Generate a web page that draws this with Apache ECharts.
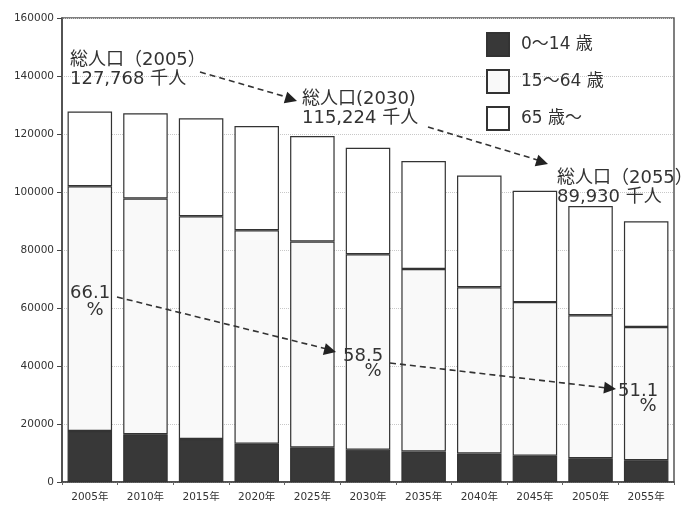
<!DOCTYPE html>
<html>
<head>
<meta charset="utf-8">
<script src="https://cdn.jsdelivr.net/npm/echarts@6/dist/echarts.min.js"></script>
<style>
  html, body { margin: 0; padding: 0; background: #fff; }
  #main { width: 689px; height: 511px; }
</style>
</head>
<body>
<div id="main"></div>
<script>
// 年次
let years = ['2005年','2010年','2015年','2020年','2025年','2030年','2035年','2040年','2045年','2050年','2055年'];
// 人口（千人）
let age0to14 = [17585, 16479, 14841, 13201, 11956, 11150, 10512, 9833, 9036, 8214, 7516];
let age15to64 = [84422, 81285, 76807, 73635, 70960, 67404, 62919, 57335, 53000, 49297, 45951];
let age65over = [25761, 29412, 33781, 35899, 36354, 36670, 37249, 38527, 38407, 37641, 36463];
let seriesNames = ['0〜14 歳', '15〜64 歳', '65 歳〜'];

let chartInstance = echarts.init(document.getElementById('main'));

let txtFont = '"DejaVu Sans", "Noto Sans CJK JP", sans-serif';
let edge = '#333333';

// 注記の矢印（破線）
function arrow(x1, y1, x2, y2) {
	return {
		type: 'line',
		shape: { x1: x1, y1: y1, x2: x2, y2: y2 },
		style: { stroke: '#333', lineWidth: 1.6, lineDash: [6, 4] },
		z: 100
	};
}
function head(x, y, ang) {
	return {
		type: 'polygon',
		x: x, y: y, rotation: -ang,
		shape: { points: [[0, 0], [-12, -6], [-12, 6]] },
		style: { fill: '#222' },
		z: 101
	};
}
function note(x, y, text, align) {
	return {
		type: 'text',
		x: x, y: y,
		style: {
			text: text, fill: '#333', font: '18px ' + txtFont,
			textAlign: align || 'left', lineHeight: 19
		},
		z: 102
	};
}

let option = {
	backgroundColor: '#fff',
	animation: false,
	grid: {
		left: 62, right: 15, top: 18, bottom: 29,
		show: true, borderColor: '#555', borderWidth: 1.5, backgroundColor: 'transparent'
	},
	legend: {
		orient: 'vertical',
		left: 481, top: 27,
		icon: 'rect',
		itemWidth: 22, itemHeight: 23,
		itemGap: 12,
		data: seriesNames,
		textStyle: { fontSize: 17, color: '#333', fontFamily: txtFont, padding: [0, 0, 0, 7] }
	},
	xAxis: [{
		type: 'category',
		data: years,
		axisLine: { lineStyle: { color: '#444', width: 1.5 } },
		axisTick: { show: true, length: 3, lineStyle: { color: '#666' } },
		axisLabel: {
			interval: 0, margin: 10, color: '#333',
			fontSize: 10.5, fontFamily: 'DejaVu Sans, "Noto Sans CJK JP"'
		}
	}],
	yAxis: [{
		type: 'value',
		min: 0, max: 160000, interval: 20000,
		axisLine: { show: true, lineStyle: { color: '#444', width: 1.5 } },
		axisTick: { show: true, length: 5, lineStyle: { color: '#444' } },
		axisLabel: {
			margin: 8, color: '#333', fontSize: 10.5, fontFamily: 'DejaVu Sans',
			formatter: function (v) { return String(v); }
		},
		splitLine: { show: true, lineStyle: { color: '#c8c8c8', type: 'dotted', width: 1 } }
	}],
	series: [
		{
			name: seriesNames[0], type: 'bar', stack: 'pop', barWidth: '80%',
			data: age0to14,
			itemStyle: { color: '#383838', borderColor: edge, borderWidth: 1.2 }
		},
		{
			name: seriesNames[1], type: 'bar', stack: 'pop',
			data: age15to64,
			itemStyle: { color: '#f9f9f9', borderColor: edge, borderWidth: 1.2 }
		},
		{
			name: seriesNames[2], type: 'bar', stack: 'pop',
			data: age65over,
			itemStyle: { color: '#ffffff', borderColor: edge, borderWidth: 1.2 }
		}
	],
	graphic: [
		note(70, 51, '総人口（2005）\n127,768 千人'),
		arrow(200, 72, 290, 98), head(297, 101, Math.atan2(101 - 72, 297 - 200)),
		note(302, 90, '総人口(2030)\n115,224 千人'),
		arrow(428, 127, 541, 161), head(548, 164, Math.atan2(164 - 127, 548 - 428)),
		note(557, 169, '総人口（2055）\n89,930 千人'),
		note(70, 284, '66.1'), note(95, 301, '%', 'center'),
		arrow(117, 297, 327, 349), head(336, 352, Math.atan2(352 - 297, 336 - 117)),
		note(343, 347, '58.5'), note(373, 362, '%', 'center'),
		arrow(390, 363, 607, 388), head(616, 389, Math.atan2(389 - 363, 616 - 390)),
		note(618, 382, '51.1'), note(648, 397, '%', 'center')
	]
};

chartInstance.setOption(option);
</script>
</body>
</html>
